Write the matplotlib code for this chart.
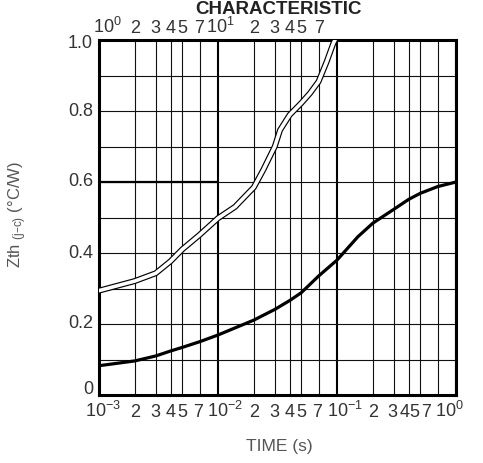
import matplotlib
matplotlib.use("Agg")
import matplotlib.pyplot as plt
import matplotlib.transforms as mtransforms
from matplotlib.ticker import FixedLocator, FixedFormatter, NullFormatter

plt.rcParams['font.family'] = ['Liberation Sans', 'DejaVu Sans']
plt.rcParams['mathtext.default'] = 'regular'

# lower curve, bottom time axis (s)
time_short = [0.001, 0.002, 0.003, 0.004, 0.005, 0.007, 0.01, 0.02, 0.03, 0.04,
              0.05, 0.07, 0.1, 0.15, 0.2, 0.3, 0.4, 0.5, 0.7, 1.0]
zth_short = [0.0825, 0.096, 0.11, 0.124, 0.134, 0.15, 0.169, 0.211, 0.241, 0.266,
             0.288, 0.335, 0.38, 0.446, 0.484, 0.523, 0.551, 0.568, 0.587, 0.6]

# double-line curve, top time axis (s)
time_long = [1, 2, 3, 4, 5, 7, 10, 13.9, 20, 24, 30, 33.2, 40, 50, 59.3,
             70, 81.9, 93, 100, 104]
zth_long = [0.294, 0.321, 0.343, 0.377, 0.41, 0.451, 0.498, 0.53, 0.585, 0.634,
            0.70, 0.746, 0.789, 0.822, 0.85, 0.883, 0.939, 0.99, 1.012, 1.03]

# 0.6 limit line
limit_t = [0.001, 0.01]
limit_z = [0.6, 0.6]

mult = [2, 3, 4, 5, 7]
bottom_major = [0.001, 0.01, 0.1, 1.0]
bottom_major_lbl = ['$10^{-3}$', '$10^{-2}$', '$10^{-1}$', '$10^{0}$']
bottom_minor = [m * d for d in [0.001, 0.01, 0.1] for m in mult]
bottom_minor_lbl = [str(m) for m in mult] * 3
top_major = [1, 10]
top_major_lbl = ['$10^{0}$', '$10^{1}$']
top_minor = [m * d for d in [1, 10] for m in mult]
top_minor_lbl = [str(m) for m in mult] * 2
y_ticks = [0, 0.2, 0.4, 0.6, 0.8, 1.0]
y_tick_lbl = ['0', '0.2', '0.4', '0.6', '0.8', '1.0']

fig = plt.figure(figsize=(4.83, 4.63), dpi=100)
ax = fig.add_axes([99 / 483, 68 / 463, 357 / 483, 355 / 463])

ax.set_xscale('log')
ax.set_xlim(0.001, 1.0)
ax.set_ylim(0, 1.0)

ax.xaxis.set_major_locator(FixedLocator(bottom_major))
ax.xaxis.set_major_formatter(NullFormatter())
ax.xaxis.set_minor_locator(FixedLocator(bottom_minor))
ax.xaxis.set_minor_formatter(NullFormatter())

ax.yaxis.set_major_locator(FixedLocator(y_ticks))
ax.yaxis.set_major_formatter(NullFormatter())
ax.yaxis.set_minor_locator(FixedLocator([0.1, 0.3, 0.5, 0.7, 0.9]))
ax.yaxis.set_minor_formatter(NullFormatter())

ax.grid(True, which='major', axis='x', color='black', lw=1.5)
ax.grid(True, which='minor', axis='x', color='#111111', lw=0.8)
ax.grid(True, which='both', axis='y', color='#111111', lw=0.8)
ax.set_axisbelow(True)
ax.tick_params(which='both', length=0)
for s in ax.spines.values():
    s.set_linewidth(2.2)

ax.plot(limit_t, limit_z, color='black', lw=1.6, solid_capstyle='butt', zorder=3)
ax.plot(time_short, zth_short, color='black', lw=2.3, solid_joinstyle='round', zorder=4)

lbl_kw = dict(fontsize=13, color='#333333', clip_on=False)

# y labels: "0" sits above the bottom edge, "1.0" a bit below the top
ytrans = mtransforms.blended_transform_factory(ax.transAxes, ax.transData)
y_shift = [6, 0, 0, 0, 0, -3]
for y, lbl, dy in zip(y_ticks, y_tick_lbl, y_shift):
    tr = mtransforms.offset_copy(ytrans, fig=fig, x=-6, y=dy, units='dots')
    ax.text(0, y, lbl, transform=tr, ha='right', va='center', **lbl_kw)

# bottom labels: the "10" sits on the grid line, exponent hangs right
xtrans = mtransforms.blended_transform_factory(ax.transData, ax.transAxes)
major_shift = [-14, -11, -10, -21]
for x, lbl, dx in zip(bottom_major, bottom_major_lbl, major_shift):
    tr = mtransforms.offset_copy(xtrans, fig=fig, x=dx, y=-22, units='dots')
    ax.text(x, 0, lbl, transform=tr, ha='left', va='baseline', **lbl_kw)
minor_shift = [0, 0, 0, 0, -2, 0, 0, 0, 0, -2, 0, -1.5, -4, -6, -12]
for x, lbl, dx in zip(bottom_minor, bottom_minor_lbl, minor_shift):
    tr = mtransforms.offset_copy(xtrans, fig=fig, x=dx, y=-22, units='dots')
    ax.text(x, 0, lbl, transform=tr, ha='center', va='baseline', **lbl_kw)

ax2 = ax.twiny()
ax2.set_xscale('log')
ax2.set_xlim(1, 1000)
ax2.xaxis.set_major_locator(FixedLocator(top_major))
ax2.xaxis.set_major_formatter(NullFormatter())
ax2.xaxis.set_minor_locator(FixedLocator(top_minor))
ax2.xaxis.set_minor_formatter(NullFormatter())
ax2.tick_params(which='both', length=0)
for s in ax2.spines.values():
    s.set_visible(False)

xtrans2 = mtransforms.blended_transform_factory(ax2.transData, ax2.transAxes)
top_shift = [-6, -12]
for x, lbl, dx in zip(top_major, top_major_lbl, top_shift):
    tr = mtransforms.offset_copy(xtrans2, fig=fig, x=dx, y=7, units='dots')
    ax2.text(x, 1, lbl, transform=tr, ha='left', va='baseline', **lbl_kw)
top_minor_shift = [0, 0, 0, 0, -1, 0, 0, 0, 0, 0]
for x, lbl, dx in zip(top_minor, top_minor_lbl, top_minor_shift):
    tr = mtransforms.offset_copy(xtrans2, fig=fig, x=dx, y=7, units='dots')
    ax2.text(x, 1, lbl, transform=tr, ha='center', va='baseline', **lbl_kw)

ax2.plot(time_long, zth_long, color='black', lw=4.3, solid_joinstyle='round', zorder=4)
ax2.plot(time_long, zth_long, color='white', lw=2.6, solid_joinstyle='round', zorder=5)

fig.text(279 / 483, 1 - 14 / 463, 'CHARACTERISTIC', ha='center', va='baseline',
         fontsize=13.5, fontweight='bold', color='#222222')
fig.text(279 / 483, 1 - 447 / 463, 'TIME (s)', ha='center', va='center',
         fontsize=12.5, color='#555555')
fig.text(18 / 483, 1 - 215 / 463, 'Zth $_{(j–c)}$ (°C/W)', rotation=90,
         ha='center', va='center', fontsize=12, color='#555555')

fig.savefig('out.png', dpi=100)
